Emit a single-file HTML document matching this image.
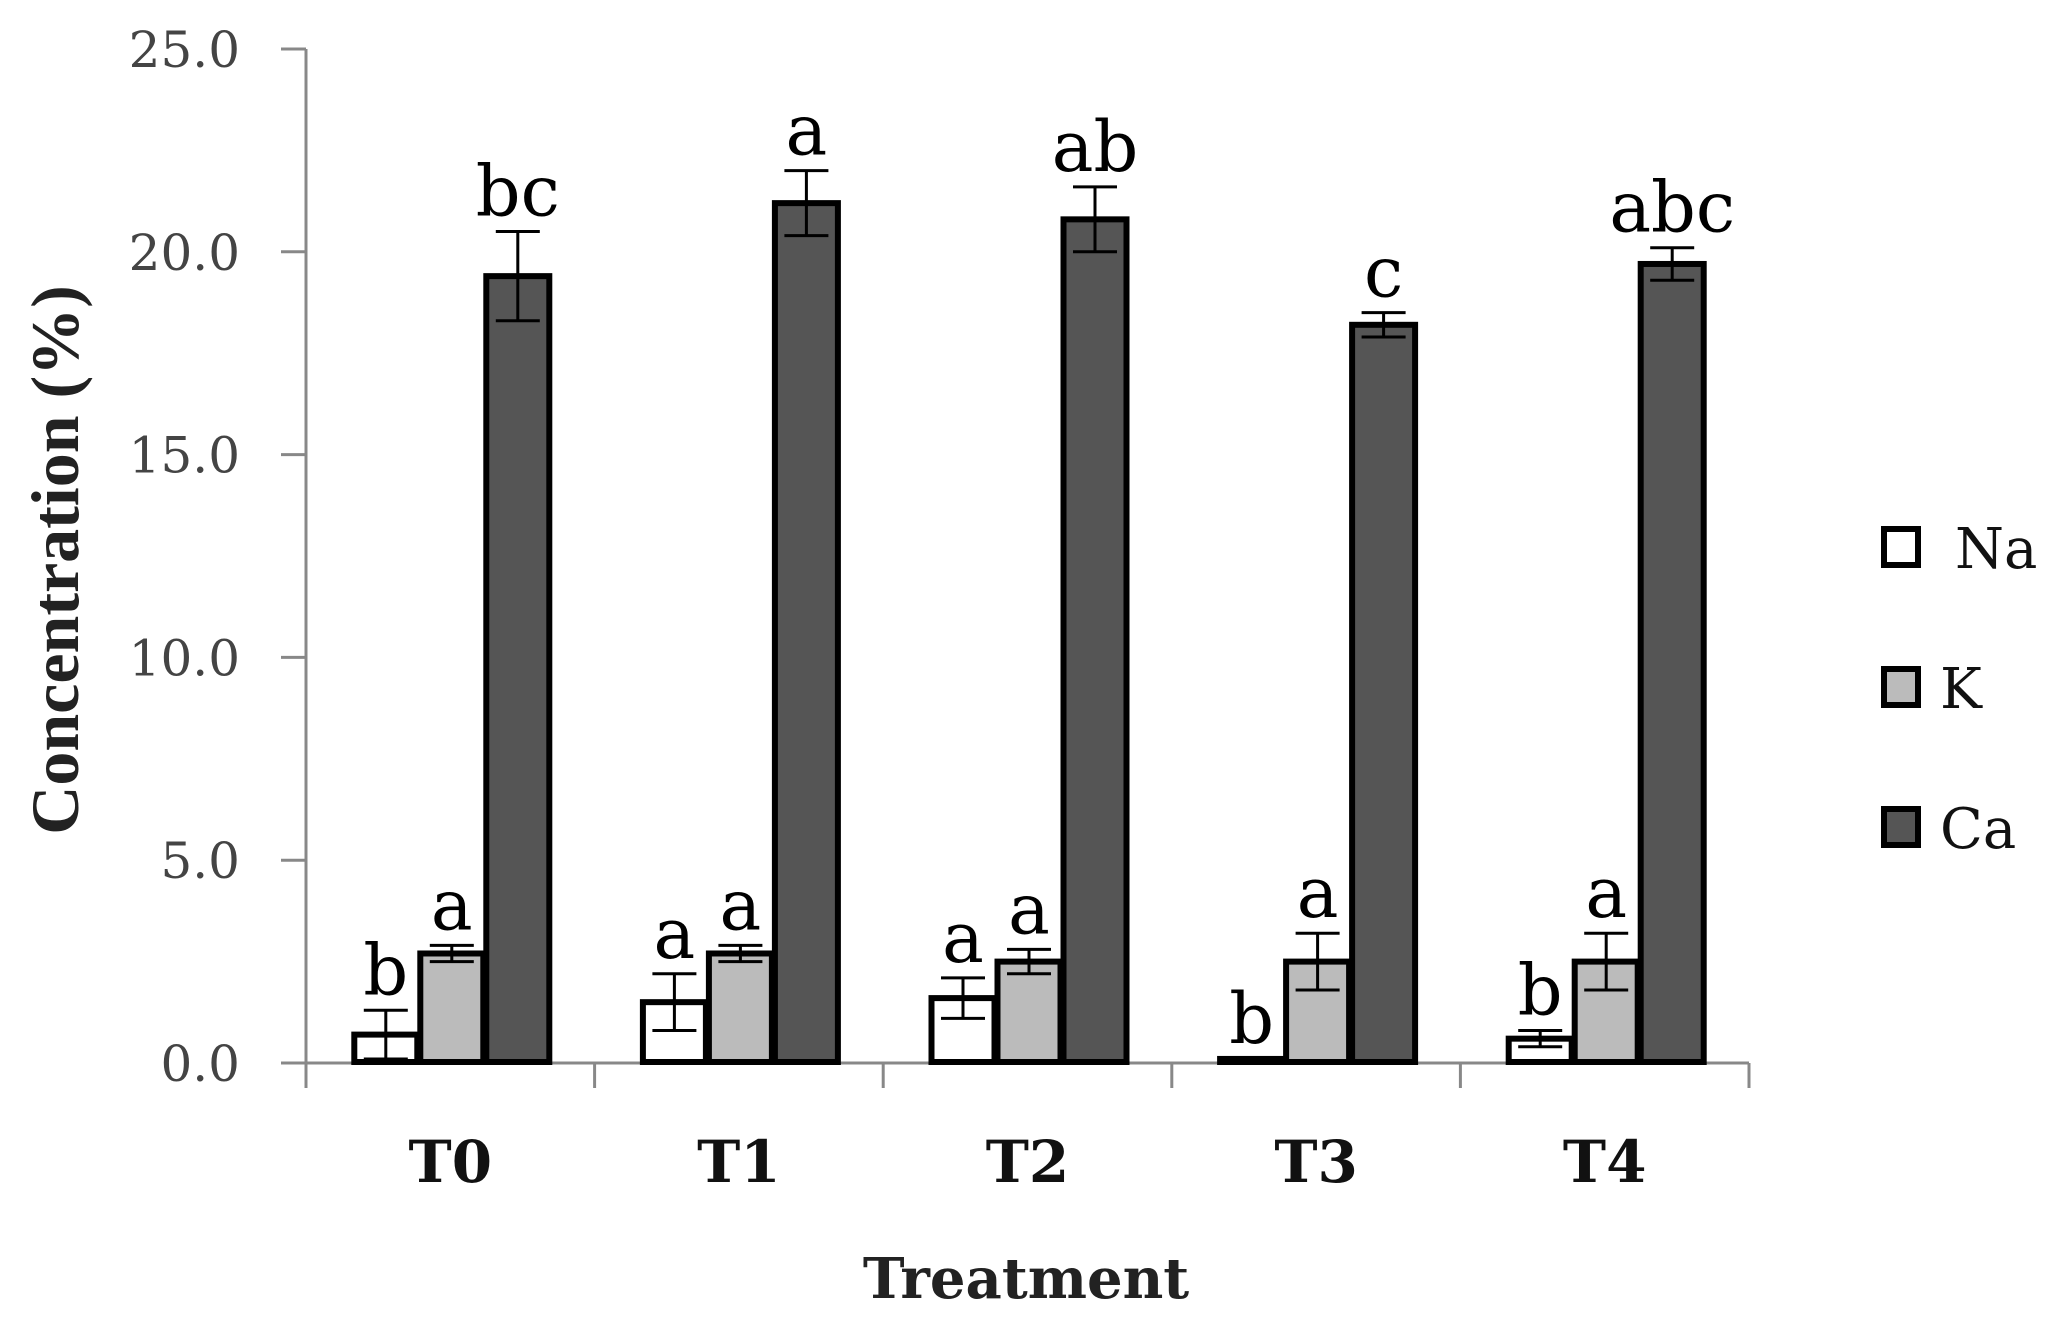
<!DOCTYPE html>
<html><head><meta charset="utf-8"><style>
body{margin:0;background:#fff}
svg{display:block}
text{font-family:"DejaVu Serif","Liberation Serif",serif}
</style></head><body>
<svg id="c" width="2062" height="1317"></svg>
<script>
const categories=["T0","T1","T2","T3","T4"];
const seriesNames=["Na","K","Ca"];
const naValues=[0.7,1.5,1.6,0.1,0.6];
const kValues=[2.7,2.7,2.5,2.5,2.5];
const caValues=[19.4,21.2,20.8,18.2,19.7];
const naErr=[0.6,0.7,0.5,0.0,0.2];
const kErr=[0.2,0.2,0.3,0.7,0.7];
const caErr=[1.1,0.8,0.8,0.3,0.4];
const naLetters=["b","a","a","b","b"];
const kLetters=["a","a","a","a","a"];
const caLetters=["bc","a","ab","c","abc"];
const yTicks=[0,5,10,15,20,25];
const yTickLabels=["0.0","5.0","10.0","15.0","20.0","25.0"];

const NS="http://www.w3.org/2000/svg";
const svg=document.getElementById('c');
const X0=306,X1=1749,Y0=1063,Y1=49,YMAX=25;
const catW=(X1-X0)/categories.length;
const barW=66;
function y(v){return Y0-(v/YMAX)*(Y0-Y1);}
function xc(i){return X0+catW*(i+0.5);}
function mk(tag,attrs,txt){const e=document.createElementNS(NS,tag);for(const k in attrs)e.setAttribute(k,attrs[k]);if(txt!==undefined)e.textContent=txt;svg.appendChild(e);return e;}

let e=mk('line',{x1:X0,y1:Y1,x2:X0,y2:Y0,stroke:'#888','stroke-width':3});

e=mk('line',{x1:X0,y1:Y0,x2:X1,y2:Y0,stroke:'#888','stroke-width':3});

yTicks.forEach((t,i)=>{
  let l=mk('line',{x1:X0-25,y1:y(t),x2:X0,y2:y(t),stroke:'#888','stroke-width':3});
  
  let tx=mk('text',{x:240,y:y(t)+18,'text-anchor':'end','font-size':50,fill:'#444'},yTickLabels[i]);
  
});
for(let i=0;i<=categories.length;i++){
  let l=mk('line',{x1:X0+catW*i,y1:Y0,x2:X0+catW*i,y2:Y0+25,stroke:'#888','stroke-width':3});
  
}
const fills=['#fff','#bbb','#555'];
const vals=[naValues,kValues,caValues],errs=[naErr,kErr,caErr],lets=[naLetters,kLetters,caLetters];
categories.forEach((c,i)=>{
  let tx=mk('text',{x:xc(i),y:1182,'text-anchor':'middle','font-size':58,'font-weight':'bold',fill:'#111'},c);
  
  for(let s=0;s<3;s++){
    const v=vals[s][i],er=errs[s][i];
    const bx=xc(i)+(s-1.5)*barW;
    let r=mk('rect',{x:bx+3,y:y(v),width:barW-3,height:Y0-y(v)-1,fill:fills[s],stroke:'#000','stroke-width':6});
    
    
    const cx=bx+barW/2+1.5;
    if(er>0){
      let g=mk('path',{d:`M${cx},${y(v+er)}V${y(v-er)}M${cx-22},${y(v+er)}H${cx+22}M${cx-22},${y(v-er)}H${cx+22}`,stroke:'#000','stroke-width':3,fill:'none'});
      
    }
    let lt=mk('text',{x:cx,y:y(v+er)-16,'text-anchor':'middle','font-size':70,fill:'#000'},lets[s][i]);
    
  }
});
e=mk('text',{x:0,y:0,'text-anchor':'middle','font-size':68,'font-weight':'bold',transform:'translate(78,560) rotate(-90)',fill:'#222',style:'font-family:"Liberation Serif",serif'},'Concentration (%)');

e=mk('text',{x:1026,y:1298,'text-anchor':'middle','font-size':56,'font-weight':'bold',fill:'#222'},'Treatment');

const legY=[548,688,828];
seriesNames.forEach((n,s)=>{
  let r=mk('rect',{x:1884,y:legY[s]-19,width:34,height:36,fill:fills[s],stroke:'#000','stroke-width':6});
  
  let t=mk('text',{x:s==0?1955:1940,y:legY[s]+20,'font-size':56,fill:'#111'},n);
  
});
</script>
</body></html>
